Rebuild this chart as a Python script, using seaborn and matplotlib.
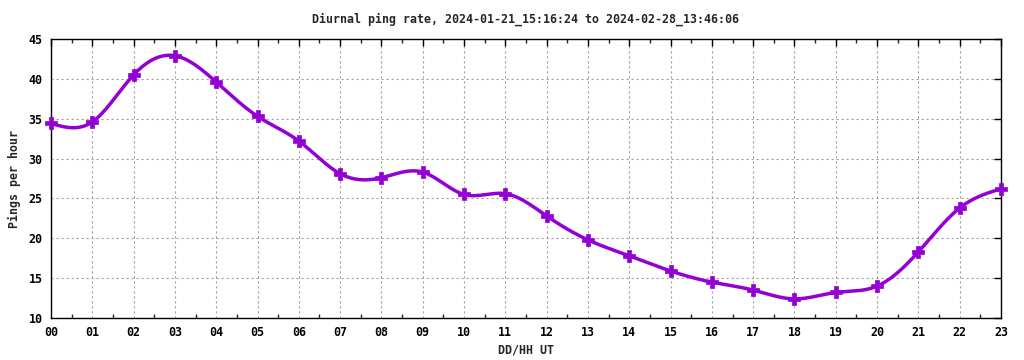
import numpy as np
import pandas as pd
import matplotlib
matplotlib.use("Agg")
import matplotlib.pyplot as plt
import seaborn as sns

hours = list(range(24))
hour_labels = [f"{h:02d}" for h in hours]
pings = [34.4, 34.6, 40.5, 42.9, 39.6, 35.3, 32.2, 28.1, 27.6, 28.3, 25.5, 25.6,
         22.8, 19.8, 17.8, 15.9, 14.5, 13.5, 12.4, 13.2, 14.0, 18.3, 23.8, 26.2]
title = "Diurnal ping rate, 2024-01-21_15:16:24 to 2024-02-28_13:46:06"


def natural_spline(x, y, n=20):
    # natural cubic spline through the points, like gnuplot's smooth csplines
    x = np.asarray(x, float)
    y = np.asarray(y, float)
    m = len(x)
    h = np.diff(x)
    A = np.zeros((m, m))
    b = np.zeros(m)
    A[0, 0] = A[-1, -1] = 1
    for i in range(1, m - 1):
        A[i, i - 1] = h[i - 1]
        A[i, i] = 2 * (h[i - 1] + h[i])
        A[i, i + 1] = h[i]
        b[i] = 6 * ((y[i + 1] - y[i]) / h[i] - (y[i] - y[i - 1]) / h[i - 1])
    M = np.linalg.solve(A, b)
    xs, ys = [], []
    for i in range(m - 1):
        t = np.linspace(x[i], x[i + 1], n, endpoint=False)
        a = x[i + 1] - t
        c = t - x[i]
        s = (M[i] * a**3 + M[i + 1] * c**3) / (6 * h[i]) \
            + (y[i] / h[i] - M[i] * h[i] / 6) * a \
            + (y[i + 1] / h[i] - M[i + 1] * h[i] / 6) * c
        xs.extend(t)
        ys.extend(s)
    xs.append(x[-1])
    ys.append(y[-1])
    return np.array(xs), np.array(ys)


sns.set_style("white")
plt.rcParams['font.family'] = ['DejaVu Sans Mono']
plt.rcParams['font.weight'] = 'bold'

df = pd.DataFrame({'hour': hours, 'pings': pings})
sx, sy = natural_spline(hours, pings)
smooth = pd.DataFrame({'hour': sx, 'pings': sy})

fig = plt.figure(figsize=(10.24, 3.6), dpi=100)
ax = fig.add_axes([51 / 1024, 42 / 360, 950 / 1024, 279 / 360])

color = '#9400d3'
sns.lineplot(data=smooth, x='hour', y='pings', ax=ax, color=color, linewidth=2.5)
sns.scatterplot(data=df, x='hour', y='pings', ax=ax, color=color, marker='P',
                s=80, edgecolor=color, linewidth=0.5, zorder=5, clip_on=False)

ax.set_xlim(0, 23)
ax.set_ylim(10, 45)
ax.set_xticks(hours)
ax.set_xticklabels(hour_labels)
ax.set_xticks(np.arange(0.5, 23, 1), minor=True)
ax.set_yticks(range(10, 46, 5))

ax.grid(True, which='major', color='#a0a0a0', linestyle=(0, (2, 2.5)), linewidth=0.8)
ax.set_axisbelow(True)
for sp in ax.spines.values():
    sp.set_color('black')
    sp.set_linewidth(1.0)

ax.tick_params(axis='both', which='major', direction='in', length=5, width=1,
               top=True, right=True, labelsize=8.4, pad=6, colors='black')
ax.tick_params(axis='x', which='minor', direction='in', length=3, width=1,
               top=True, bottom=True)

ax.set_xlabel("DD/HH UT", fontsize=8.4, fontweight='bold', va='center')
ax.set_ylabel("Pings per hour", fontsize=8.4, fontweight='bold', va='center')
ax.xaxis.set_label_coords(0.5, -32 / 279)
ax.yaxis.set_label_coords(-37 / 950, 0.5)
ax.set_title(title, fontsize=8.4, fontweight='bold', pad=12)

fig.savefig("out.png", dpi=100)
